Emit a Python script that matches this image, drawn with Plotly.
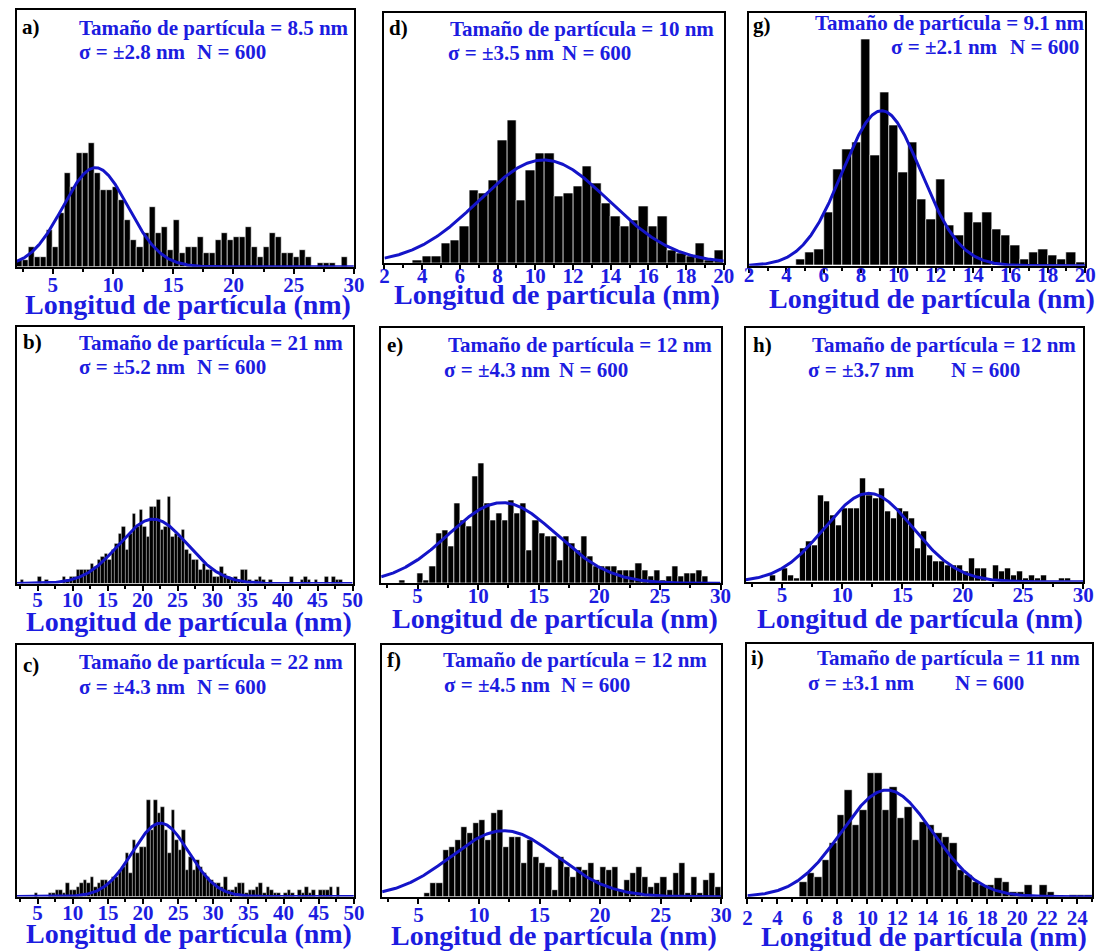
import numpy as np
import plotly.graph_objects as go

W, H = 1107, 951

# ---------------- data (counts per 0.5 nm bin, arbitrary units) ----------------
bin_width = 0.5

a_start = 2.0
a_counts = [2, 2, 6, 3, 3, 11, 6, 16, 28, 24, 34, 34, 37, 28, 23, 23, 24, 20, 14, 8,
            6, 10, 18, 10, 12, 5, 14, 4, 6, 6, 9, 4, 4, 8, 10, 8, 9, 9, 12, 6,
            3, 6, 10, 9, 4, 4, 3, 5, 3, 0, 1, 1, 1, 0, 3, 0]
a_fit = [8.55, 2.7, 29.7]  # mean, sigma, amplitude

b_start = 2.0
b_counts = [0, 1, 0, 0, 0, 0, 2, 0, 1, 0, 0, 0, 0, 2, 1, 2, 2, 4, 4, 4,
            4, 6, 5, 7, 8, 9, 7, 10, 12, 15, 17, 10, 15, 21, 17, 22, 17, 14, 23, 23,
            25, 16, 17, 26, 14, 15, 14, 16, 10, 9, 7, 7, 4, 6, 4, 4, 2, 2, 5, 3,
            2, 1, 2, 1, 4, 4, 1, 0, 1, 2, 1, 0, 1, 0, 0, 0, 0, 0, 2, 0,
            0, 1, 2, 1, 0, 1, 0, 0, 2, 0, 2, 1, 1, 0, 0, 0]
b_fit = [21.5, 4.9, 19.3]

c_start = 2.0
c_counts = [0, 0, 0, 0, 0, 1, 0, 0, 0, 1, 1, 2, 2, 1, 4, 2, 2, 3, 4, 5,
            4, 6, 3, 4, 5, 5, 4, 6, 6, 8, 9, 13, 7, 17, 13, 15, 15, 29, 20, 29,
            25, 27, 20, 13, 26, 17, 14, 20, 8, 12, 8, 11, 9, 7, 6, 5, 4, 4, 3, 6,
            2, 2, 3, 4, 4, 1, 2, 2, 3, 4, 1, 3, 2, 1, 1, 0, 1, 2, 1, 0,
            2, 1, 3, 1, 2, 0, 2, 2, 2, 3, 0, 3, 0, 0, 0, 0]
c_fit = [22.5, 4.0, 22.0]

d_start = 2.0
d_counts = [0, 0, 0, 1, 2, 2, 6, 7, 11, 22, 21, 25, 37, 43, 19, 28, 33, 33, 20, 21,
            23, 29, 24, 18, 14, 11, 13, 17, 11, 14, 4, 3, 2, 6, 1, 4]
d_fit = [10.45, 3.45, 31.0]

e_start = 2.0
e_counts = [0, 0, 0, 1, 0, 0, 3, 1, 5, 15, 16, 11, 24, 19, 17, 32, 36, 24, 19, 21,
            19, 25, 21, 24, 10, 19, 15, 14, 14, 7, 14, 12, 10, 14, 8, 5, 5, 5, 5, 4,
            4, 4, 6, 4, 2, 4, 1, 2, 5, 2, 3, 3, 4, 2, 0, 0]
e_fit = [12.0, 4.45, 24.2]

f_start = 2.0
f_counts = [0, 0, 0, 0, 0, 0, 0, 1, 4, 4, 14, 15, 17, 21, 19, 22, 23, 17, 25, 26,
            15, 18, 18, 10, 17, 12, 10, 9, 2, 12, 9, 6, 9, 8, 10, 5, 9, 8, 9, 2,
            5, 7, 9, 6, 3, 4, 6, 2, 7, 10, 1, 6, 1, 5, 7, 3]
f_fit = [12.05, 4.4, 19.8]

g_start = 2.0
g_counts = [0, 0, 0, 0, 0, 2, 4, 5, 16, 29, 35, 37, 68, 33, 52, 42, 28, 37, 20, 14,
            26, 12, 9, 16, 13, 16, 11, 9, 6, 2, 4, 5, 3, 2, 4, 1]
g_fit = [9.1, 2.1, 46.5]

h_start = 2.0
h_counts = [0, 0, 0, 0, 2, 0, 4, 2, 1, 10, 12, 11, 26, 24, 20, 17, 22, 22, 22, 31,
            26, 25, 28, 21, 19, 22, 21, 19, 10, 15, 8, 6, 6, 5, 5, 5, 3, 7, 4, 4,
            0, 5, 3, 4, 2, 3, 1, 2, 1, 2, 0, 0, 1, 1, 0, 0]
h_fit = [12.2, 3.7, 26.5]

i_start = 2.0
i_counts = [0, 0, 0, 0, 0, 0, 0, 4.5, 7, 6, 11, 16, 24.5, 32, 21.5, 26, 37, 37, 26, 33,
            23.5, 27, 17, 22.5, 21.5, 19, 18, 16, 8, 6.5, 4.5, 3.5, 3.5, 5.5, 4.5, 1.5, 1.5, 3.5, 0, 3.5,
            1.5, 0, 0, 0.5, 0.5, 0.5]
i_fit = [11.3, 3.05, 32.0]

x_label = "Longitud de partícula (nm)"
size_text = ["Tamaño de partícula = 8.5 nm", "Tamaño de partícula = 21 nm", "Tamaño de partícula = 22 nm",
             "Tamaño de partícula = 10 nm", "Tamaño de partícula = 12 nm", "Tamaño de partícula = 12 nm",
             "Tamaño de partícula = 9.1 nm", "Tamaño de partícula = 12 nm", "Tamaño de partícula = 11 nm"]
sigma_text = ["σ = ±2.8 nm", "σ = ±5.2 nm", "σ = ±4.3 nm", "σ = ±3.5 nm", "σ = ±4.3 nm",
              "σ = ±4.5 nm", "σ = ±2.1 nm", "σ = ±3.7 nm", "σ = ±3.1 nm"]
n_text = "N = 600"
letters = ["a)", "b)", "c)", "d)", "e)", "f)", "g)", "h)", "i)"]

# ---------------- layout (pixels) ----------------
panels = [
    dict(c=a_counts, s=a_start, fit=a_fit, xr=[2, 30], dt=5, mn=2.5, fr=(11.7, 10, 354, 266.7), bl=0.6,
         L=(15, 27), l1=(73, 28), sg=(73, 52), nn=(193, 52), ti=(186, 304), so=-7),
    dict(c=b_counts, s=b_start, fit=b_fit, xr=[2, 50], dt=5, mn=2.5, fr=(11.7, 326.7, 352.7, 583.5), bl=0.3,
         L=(16, 342), l1=(73, 343), sg=(73, 367), nn=(193, 367), ti=(187, 621), so=-9),
    dict(c=c_counts, s=c_start, fit=c_fit, xr=[2, 50], dt=5, mn=2.5, fr=(11.7, 645, 354, 896.5), bl=0.3,
         L=(16, 665), l1=(73, 662), sg=(73, 687), nn=(193, 687), ti=(187, 933), so=-9),
    dict(c=d_counts, s=d_start, fit=d_fit, xr=[2, 20], dt=2, mn=1, fr=(385, 13.3, 729.3, 263.3), bl=0.6,
         L=(388, 28), l1=(450, 29), sg=(447, 53), nn=(563, 53), ti=(560, 294), so=-13),
    dict(c=e_counts, s=e_start, fit=e_fit, xr=[2, 30], dt=5, mn=2.5, fr=(381.7, 328.3, 726, 583.3), bl=0.6,
         L=(386, 345), l1=(447, 345), sg=(443, 370), nn=(560, 370), ti=(558, 618), so=-13),
    dict(c=f_counts, s=f_start, fit=f_fit, xr=[2, 30], dt=5, mn=2.5, fr=(382.7, 645, 726.7, 896.7), bl=0.6,
         L=(386, 660), l1=(442, 660), sg=(443, 685), nn=(562, 685), ti=(557, 935), so=-7),
    dict(c=g_counts, s=g_start, fit=g_fit, xr=[2, 20], dt=2, mn=1, fr=(755, 13.3, 1096, 265.7), bl=0.6,
         L=(757, 25), l1=(820, 23), sg=(897, 47), nn=(1018, 47), ti=(941, 298), so=-16),
    dict(c=h_counts, s=h_start, fit=h_fit, xr=[2, 30], dt=5, mn=2.5, fr=(751.7, 328.3, 1094, 581.7), bl=0.6,
         L=(757, 345), l1=(817, 345), sg=(813, 370), nn=(958, 370), ti=(928, 618), so=-12),
    dict(c=i_counts, s=i_start, fit=i_fit, xr=[2, 25], dt=2, mn=1, fr=(753.3, 644, 1103.3, 896.7), bl=0.6,
         L=(755, 658), l1=(822, 658), sg=(813, 683), nn=(962, 683), ti=(932, 936), so=-4),
]

BLUE_TXT = "#1c1ce0"
BLUE_LINE = "#1414c8"
SERIF = "Liberation Serif, Times New Roman, serif"


def px(x):
    return x / W


def py(y):
    return 1 - y / H


fig = go.Figure()
layout = dict(width=W, height=H, margin=dict(l=0, r=0, t=0, b=0),
              paper_bgcolor="white", plot_bgcolor="white", showlegend=False,
              bargap=0, annotations=[])

for k, p in enumerate(panels):
    n = k + 1
    xa = "x" if n == 1 else f"x{n}"
    ya = "y" if n == 1 else f"y{n}"
    counts = np.array(p["c"], dtype=float)
    centers = p["s"] + bin_width * (np.arange(len(counts)) + 0.5)
    fig.add_trace(go.Bar(x=centers, y=counts, width=bin_width, xaxis=xa, yaxis=ya,
                         marker=dict(color="black", line=dict(color="white", width=p["bl"])),
                         hoverinfo="x+y"))
    mu, sd, amp = p["fit"]
    xs = np.linspace(p["xr"][0], p["xr"][1], 500)
    ys = amp * np.exp(-0.5 * ((xs - mu) / sd) ** 2)
    fig.add_trace(go.Scatter(x=xs, y=ys, mode="lines", xaxis=xa, yaxis=ya,
                             line=dict(color=BLUE_LINE, width=3), hoverinfo="skip"))

    l, t, r, b = p["fr"]
    ymax = (b - t) * 0.3
    axkey = "xaxis" if n == 1 else f"xaxis{n}"
    aykey = "yaxis" if n == 1 else f"yaxis{n}"
    layout[axkey] = dict(domain=[px(l), px(r)], anchor=ya, range=p["xr"], dtick=p["dt"], tick0=0,
                         ticks="outside", ticklen=5, tickwidth=2, tickcolor="black",
                         showline=True, linecolor="black", linewidth=2, mirror=True,
                         showgrid=False, zeroline=False, ticklabelstandoff=p["so"],
                         tickfont=dict(family=SERIF, size=21, color=BLUE_TXT, weight="bold"),
                         minor=dict(dtick=p["mn"], tick0=0, ticks="outside", ticklen=3,
                                    tickwidth=1.5, tickcolor="black", showgrid=False))
    layout[aykey] = dict(domain=[py(b), py(t)], anchor=xa, range=[0, ymax],
                         showticklabels=False, ticks="", showgrid=False, zeroline=False,
                         showline=True, linecolor="black", linewidth=2, mirror=True)

    ann = layout["annotations"]
    common = dict(xref="paper", yref="paper", showarrow=False, yanchor="middle")
    ann.append(dict(x=px(p["L"][0]), y=py(p["L"][1]), text=letters[k], xanchor="left",
                    font=dict(family=SERIF, size=21, color="black", weight="bold"), **common))
    ann.append(dict(x=px(p["l1"][0]), y=py(p["l1"][1]), text=size_text[k], xanchor="left",
                    font=dict(family=SERIF, size=21, color=BLUE_TXT, weight="bold"), **common))
    ann.append(dict(x=px(p["sg"][0]), y=py(p["sg"][1]), text=sigma_text[k], xanchor="left",
                    font=dict(family=SERIF, size=21, color=BLUE_TXT, weight="bold"), **common))
    ann.append(dict(x=px(p["nn"][0]), y=py(p["nn"][1]), text=n_text, xanchor="left",
                    font=dict(family=SERIF, size=21, color=BLUE_TXT, weight="bold"), **common))
    ann.append(dict(x=px(p["ti"][0]), y=py(p["ti"][1]), text=x_label, xanchor="center",
                    font=dict(family=SERIF, size=28, color=BLUE_TXT, weight="bold"), **common))

fig.update_layout(**layout)
fig.write_html("out.html")
